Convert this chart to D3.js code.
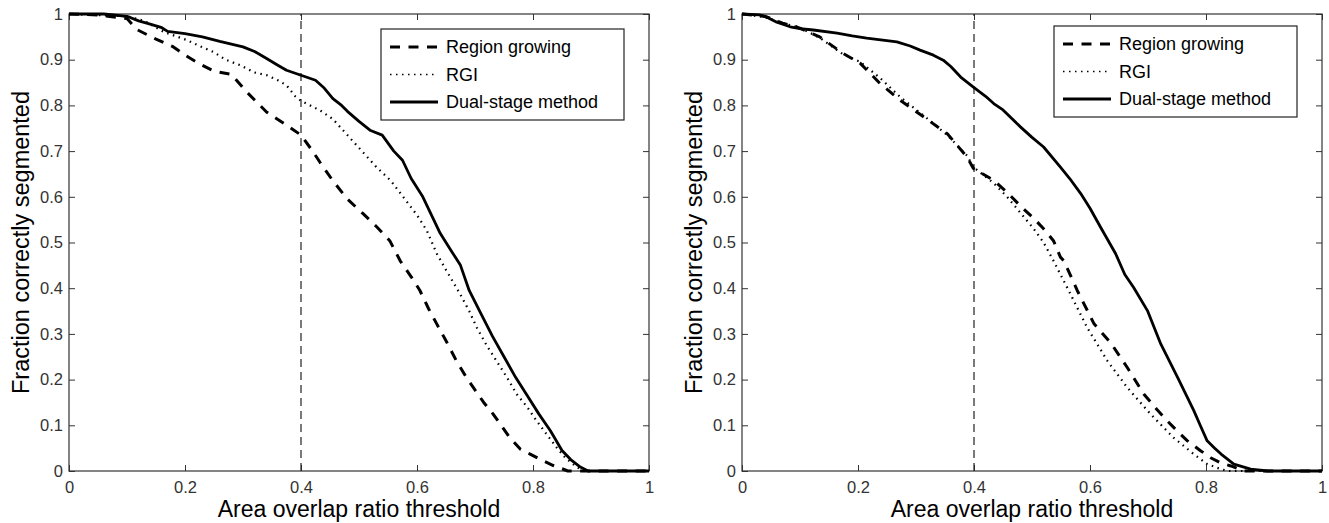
<!DOCTYPE html>
<html>
<head>
<meta charset="utf-8">
<script src="https://cdn.jsdelivr.net/npm/d3@7"></script>
<style>
  body { margin: 0; background: #fff; }
  svg { display: block; font-family: "Liberation Sans", Arial, Helvetica, sans-serif; }
  .tick text { fill: #333; font-size: 16.5px; }
  .tick line { stroke: #333; }
</style>
</head>
<body>
<svg id="chart" width="1329" height="523"></svg>
<script>
// series, [threshold, fraction]
var seriesNames = ["Region growing", "RGI", "Dual-stage method"];
var xTicks = [0, 0.2, 0.4, 0.6, 0.8, 1];
var yTicks = [0, 0.1, 0.2, 0.3, 0.4, 0.5, 0.6, 0.7, 0.8, 0.9, 1];
var markerX = 0.4;

var leftRegion = [[0,1],[0.05,0.998],[0.1,0.99],[0.117,0.966],[0.15,0.945],[0.18,0.928],[0.2,0.91],[0.226,0.89],[0.25,0.875],[0.28,0.868],[0.306,0.83],[0.341,0.785],[0.375,0.757],[0.4,0.735],[0.42,0.7],[0.433,0.675],[0.455,0.635],[0.48,0.595],[0.507,0.563],[0.53,0.535],[0.553,0.504],[0.571,0.46],[0.59,0.425],[0.605,0.395],[0.62,0.355],[0.634,0.322],[0.65,0.285],[0.668,0.241],[0.685,0.205],[0.697,0.183],[0.715,0.15],[0.731,0.125],[0.745,0.1],[0.76,0.073],[0.778,0.048],[0.795,0.037],[0.818,0.022],[0.835,0.012],[0.846,0.007],[0.86,0],[1,0]];
var leftRGI = [[0,1],[0.1,0.995],[0.13,0.985],[0.163,0.961],[0.203,0.943],[0.225,0.93],[0.249,0.917],[0.27,0.9],[0.295,0.888],[0.32,0.872],[0.341,0.866],[0.36,0.855],[0.375,0.844],[0.39,0.82],[0.4,0.81],[0.433,0.789],[0.455,0.77],[0.48,0.735],[0.505,0.7],[0.53,0.665],[0.555,0.635],[0.576,0.6],[0.6,0.56],[0.617,0.526],[0.634,0.476],[0.65,0.44],[0.674,0.388],[0.69,0.35],[0.703,0.314],[0.72,0.275],[0.737,0.241],[0.755,0.205],[0.772,0.168],[0.79,0.14],[0.806,0.11],[0.825,0.078],[0.841,0.051],[0.855,0.03],[0.869,0.015],[0.886,0],[1,0]];
var leftDual = [[0,1],[0.06,1],[0.1,0.995],[0.12,0.985],[0.14,0.978],[0.16,0.97],[0.17,0.962],[0.2,0.957],[0.23,0.95],[0.26,0.94],[0.3,0.928],[0.32,0.918],[0.34,0.903],[0.36,0.888],[0.375,0.877],[0.4,0.866],[0.425,0.855],[0.44,0.838],[0.455,0.815],[0.47,0.8],[0.48,0.787],[0.5,0.765],[0.52,0.745],[0.54,0.735],[0.56,0.7],[0.575,0.68],[0.59,0.64],[0.61,0.6],[0.625,0.56],[0.64,0.52],[0.66,0.48],[0.675,0.45],[0.69,0.395],[0.71,0.345],[0.73,0.295],[0.75,0.25],[0.77,0.205],[0.79,0.165],[0.81,0.125],[0.83,0.088],[0.85,0.045],[0.865,0.025],[0.88,0.01],[0.895,0],[1,0]];

var rightRegion = [[0,1],[0.04,0.995],[0.07,0.98],[0.094,0.972],[0.134,0.95],[0.174,0.914],[0.204,0.892],[0.238,0.848],[0.273,0.811],[0.313,0.775],[0.354,0.738],[0.388,0.687],[0.399,0.662],[0.434,0.636],[0.457,0.61],[0.48,0.58],[0.503,0.553],[0.52,0.53],[0.537,0.504],[0.549,0.468],[0.555,0.46],[0.578,0.395],[0.607,0.322],[0.636,0.28],[0.664,0.227],[0.693,0.168],[0.715,0.135],[0.733,0.11],[0.75,0.088],[0.768,0.066],[0.79,0.045],[0.808,0.029],[0.825,0.018],[0.843,0.011],[0.865,0],[1,0]];
var rightRGI = [[0,1],[0.04,0.993],[0.07,0.98],[0.1,0.97],[0.134,0.948],[0.174,0.912],[0.204,0.895],[0.238,0.86],[0.273,0.818],[0.313,0.778],[0.354,0.735],[0.388,0.69],[0.399,0.665],[0.434,0.63],[0.457,0.6],[0.48,0.565],[0.503,0.53],[0.52,0.5],[0.537,0.46],[0.566,0.388],[0.595,0.314],[0.63,0.241],[0.664,0.183],[0.704,0.125],[0.744,0.073],[0.779,0.037],[0.802,0.015],[0.826,0.004],[0.837,0],[1,0]];
var rightDual = [[0,1],[0.03,0.998],[0.043,0.993],[0.06,0.982],[0.083,0.972],[0.1,0.968],[0.123,0.965],[0.164,0.958],[0.19,0.952],[0.215,0.947],[0.267,0.939],[0.29,0.93],[0.307,0.921],[0.33,0.91],[0.347,0.899],[0.36,0.885],[0.377,0.862],[0.399,0.84],[0.42,0.82],[0.434,0.804],[0.45,0.79],[0.48,0.753],[0.5,0.73],[0.52,0.709],[0.549,0.665],[0.565,0.64],[0.584,0.607],[0.6,0.575],[0.618,0.534],[0.644,0.476],[0.66,0.43],[0.675,0.402],[0.699,0.351],[0.722,0.278],[0.751,0.205],[0.779,0.132],[0.79,0.1],[0.802,0.066],[0.815,0.05],[0.826,0.037],[0.848,0.015],[0.877,0.004],[0.906,0],[1,0]];

var lineStyles = [
  { width: 3, dash: "10,8.5" },
  { width: 2.2, dash: "1.5,4.5" },
  { width: 2.8, dash: null }
];

var panelW = 580, panelH = 457, panelTop = 14;

var draw_panel = function (svg, left, series, legendY) {
  var x = d3.scaleLinear().domain([0, 1]).range([0, panelW]);
  var y = d3.scaleLinear().domain([0, 1]).range([panelH, 0]);
  var g = svg.append("g").attr("transform", "translate(" + left + "," + panelTop + ")");

  // box ticks (inside, all four sides)
  g.append("g").attr("transform", "translate(0," + panelH + ")")
    .call(d3.axisBottom(x).tickValues(xTicks).tickSize(-6).tickPadding(10).tickFormat(d3.format("")));
  g.append("g")
    .call(d3.axisLeft(y).tickValues(yTicks).tickSize(-6).tickPadding(6).tickFormat(d3.format("")));
  g.append("g").call(d3.axisTop(x).tickValues(xTicks).tickSize(-6).tickFormat(""));
  g.append("g").attr("transform", "translate(" + panelW + ",0)")
    .call(d3.axisRight(y).tickValues(yTicks).tickSize(-6).tickFormat(""));
  g.selectAll(".domain").remove();

  g.append("rect")
    .attr("width", panelW).attr("height", panelH)
    .attr("fill", "none").attr("stroke", "#333").attr("stroke-width", 1.2);

  g.append("line")
    .attr("x1", x(markerX)).attr("x2", x(markerX))
    .attr("y1", y(0)).attr("y2", y(1))
    .attr("stroke", "#222").attr("stroke-width", 1.2)
    .attr("stroke-dasharray", "8,5");

  var line = d3.line().x(function (d) { return x(d[0]) }).y(function (d) { return y(d[1]) });
  g.selectAll("path.curve")
    .data(series)
    .enter()
    .append("path")
    .attr("class", "curve")
    .attr("d", line)
    .attr("fill", "none")
    .attr("stroke", "#000")
    .attr("stroke-linejoin", "round")
    .attr("stroke-width", function (d, i) { return lineStyles[i].width })
    .attr("stroke-dasharray", function (d, i) { return lineStyles[i].dash });

  // axis titles
  g.append("text")
    .attr("x", panelW / 2).attr("y", panelH + 46)
    .attr("text-anchor", "middle")
    .style("font-size", "23px")
    .text("Area overlap ratio threshold");
  g.append("text")
    .attr("transform", "translate(-40," + panelH / 2 + ") rotate(-90)")
    .attr("text-anchor", "middle")
    .style("font-size", "23.5px")
    .text("Fraction correctly segmented");

  // legend
  var lg = g.append("g").attr("transform", "translate(312," + legendY + ")");
  lg.append("rect")
    .attr("width", 243).attr("height", 91)
    .attr("fill", "#fff").attr("stroke", "#222").attr("stroke-width", 1.2);
  var item = lg.selectAll("g.item")
    .data(seriesNames)
    .enter()
    .append("g")
    .attr("class", "item")
    .attr("transform", function (d, i) { return "translate(0," + (18 + i * 27.5) + ")" });
  item.append("line")
    .attr("x1", 9).attr("x2", 57)
    .attr("stroke", "#000")
    .attr("stroke-width", function (d, i) { return i == 1 ? 1.5 : lineStyles[i].width })
    .attr("stroke-dasharray", function (d, i) { return lineStyles[i].dash });
  item.append("text")
    .attr("x", 65).attr("dy", "0.36em")
    .style("font-size", "18px")
    .text(function (d) { return d });
}

var svg = d3.select("#chart");
draw_panel(svg, 69, [leftRegion, leftRGI, leftDual], 15);
draw_panel(svg, 742, [rightRegion, rightRGI, rightDual], 12);
</script>
</body>
</html>
